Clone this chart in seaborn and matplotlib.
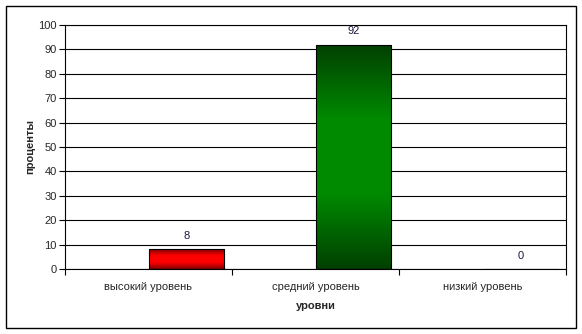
import numpy as np
import pandas as pd
import matplotlib
matplotlib.use("Agg")
import matplotlib.pyplot as plt
import seaborn as sns
from matplotlib.colors import LinearSegmentedColormap
from matplotlib.patches import Rectangle

categories = ["высокий уровень", "средний уровень", "низкий уровень"]
values = [8, 92, 0]
yticks = [0, 10, 20, 30, 40, 50, 60, 70, 80, 90, 100]
xlabel = "уровни"
ylabel = "проценты"

sns.set_theme(style="white")
plt.rcParams["font.family"] = ["Liberation Sans", "DejaVu Sans"]

df = pd.DataFrame({
    "cat": categories * 2,
    "series": ["empty"] * 3 + ["data"] * 3,
    "val": [np.nan] * 3 + values,
})

fig = plt.figure(figsize=(5.82, 3.34), dpi=100)
fig.patches.append(Rectangle((6 / 582, 6 / 334), 570 / 582, 322 / 334,
                             transform=fig.transFigure, fill=False,
                             edgecolor="black", linewidth=1.0))
ax = fig.add_axes([65 / 582, 65 / 334, 501 / 582, 244 / 334])

sns.barplot(data=df, x="cat", y="val", hue="series", hue_order=["empty", "data"],
            order=categories, dodge=True, width=0.91, ax=ax,
            palette=["white", "white"], edgecolor="black", linewidth=0.8,
            legend=False, errorbar=None)

grads = [
    LinearSegmentedColormap.from_list("r", ["#800000", "#ff0000", "#ff0000", "#800000"]),
    LinearSegmentedColormap.from_list("g", ["#023f02", "#008a00", "#008a00", "#023f02"]),
    LinearSegmentedColormap.from_list("b", ["#888888", "#888888"]),
]

data_container = ax.containers[-1]
grad = np.linspace(0, 1, 256).reshape(-1, 1)
for patch, cmap in zip(data_container.patches, grads):
    x0, w = patch.get_x(), patch.get_width()
    h = patch.get_height()
    if h <= 0:
        continue
    im = ax.imshow(grad, cmap=cmap, aspect="auto", extent=[x0, x0 + w, 0, h],
                   zorder=patch.get_zorder() - 0.1, origin="lower")
    im.set_clip_path(patch)
    patch.set_facecolor("none")

ax.bar_label(data_container, labels=[str(v) for v in values], padding=6,
             fontsize=8, color="#1a1a40")

ax.set_xlim(-0.5, 2.5)
ax.set_ylim(0, 100)
ax.set_yticks(yticks)
ax.set_yticklabels([str(t) for t in yticks], fontsize=8)
ax.set_xticks(range(len(categories)))
ax.set_xticklabels(categories, fontsize=8)
ax.set_xticks([-0.5, 0.5, 1.5, 2.5], minor=True)
ax.tick_params(axis="x", which="major", length=0, pad=9)
ax.tick_params(axis="x", which="minor", length=4, width=0.8, color="black", direction="out", bottom=True)
ax.tick_params(axis="y", length=4, width=0.8, color="black", direction="out", left=True, pad=2)
ax.grid(axis="y", color="black", linewidth=0.8)
ax.set_axisbelow(True)
for s in ax.spines.values():
    s.set_color("black")
    s.set_linewidth(0.8)
ax.set_xlabel(xlabel, fontsize=8, fontweight="bold", labelpad=7)
ax.set_ylabel(ylabel, fontsize=8, fontweight="bold", labelpad=2)

fig.savefig("out.png", dpi=100)
